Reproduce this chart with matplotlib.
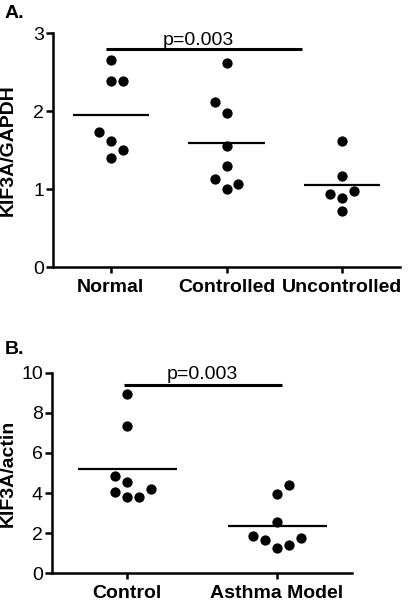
import numpy as np
import matplotlib
matplotlib.use('Agg')
import matplotlib.pyplot as plt

plt.rcParams['font.family'] = ['Liberation Sans', 'DejaVu Sans']

# panel A: KIF3A/GAPDH
a_groups = ['Normal', 'Controlled', 'Uncontrolled']
a_normal = [2.66, 2.39, 2.39, 1.73, 1.61, 1.50, 1.40]
a_controlled = [2.62, 2.12, 1.98, 1.55, 1.29, 1.13, 1.07, 1.00]
a_uncontrolled = [1.61, 1.17, 0.97, 0.93, 0.89, 0.72]
a_pvalue = 'p=0.003'

# panel B: KIF3A/actin
b_groups = ['Control', 'Asthma Model']
b_control = [8.92, 7.36, 4.87, 4.57, 4.19, 4.07, 3.82, 3.80]
b_asthma = [4.39, 3.94, 2.56, 1.84, 1.76, 1.64, 1.41, 1.28]
b_pvalue = 'p=0.003'

FS = 14

# horizontal slot of each dot (scatter layout, not data)
a_slots = [[0, 0, 1, -1, 0, 1, 0],
           [0, -1, 0, 0, 0, -1, 1, 0],
           [0, 0, 1, -1, 0, 0]]
b_slots = [[0, 0, -1, 0, 2, -1, 1, 0],
           [1, 0, 0, -2, 2, -1, 1, 0]]


def dot_panel(ax, groups, data, slots, step, ymax, yticks, ylabel, lab_x):
    for i, (vals, sl) in enumerate(zip(data, slots)):
        xs = i + np.array(sl) * step
        ax.plot(xs, vals, 'o', color='black', ms=7.4, mew=0)
        m = np.mean(vals)
        ax.plot([i - 0.33, i + 0.33], [m, m], color='black', lw=1.6,
                solid_capstyle='butt')
    ax.set_xlim(-0.5, len(groups) - 0.5)
    ax.set_ylim(0, ymax)
    ax.set_yticks(yticks)
    ax.set_xticks(range(len(groups)))
    ax.set_xticklabels(groups, fontsize=FS, fontweight='bold')
    ax.tick_params(axis='y', labelsize=FS, length=5, width=1.8, pad=1.5)
    ax.tick_params(axis='x', length=4.5, width=1.8, pad=4)
    for s in ['top', 'right']:
        ax.spines[s].set_visible(False)
    for s in ['left', 'bottom']:
        ax.spines[s].set_linewidth(1.8)
    ax.set_ylabel(ylabel, fontsize=FS, fontweight='bold')
    ax.yaxis.set_label_coords(lab_x, 0.5)


fig = plt.figure(figsize=(4.08, 6.04), dpi=100)

ax1 = fig.add_axes([53 / 408, 1 - 267 / 604, 347 / 408, 234 / 604])
dot_panel(ax1, a_groups, [a_normal, a_controlled, a_uncontrolled], a_slots,
          0.103, 3, [0, 1, 2, 3], 'KIF3A/GAPDH', -0.104)
ax1.plot([-0.04, 1.65], [2.79, 2.79], color='black', lw=2.2, solid_capstyle='butt')
ax1.text(0.76, 2.85, a_pvalue, ha='center', va='baseline', fontsize=FS)

ax2 = fig.add_axes([52 / 408, 1 - 573.3 / 604, 300 / 408, 200.7 / 604])
dot_panel(ax2, b_groups, [b_control, b_asthma], b_slots,
          0.08, 10, [0, 2, 4, 6, 8, 10], 'KIF3A/actin', -0.118)
ax2.plot([-0.02, 1.03], [9.39, 9.39], color='black', lw=2.2, solid_capstyle='butt')
ax2.text(0.5, 9.7, b_pvalue, ha='center', va='baseline', fontsize=FS)

fig.text(5 / 408, 1 - 13 / 604, 'A.', fontsize=FS, fontweight='bold', va='center')
fig.text(5 / 408, 1 - 350 / 604, 'B.', fontsize=FS, fontweight='bold', va='center')

fig.savefig('out.png', dpi=100)
